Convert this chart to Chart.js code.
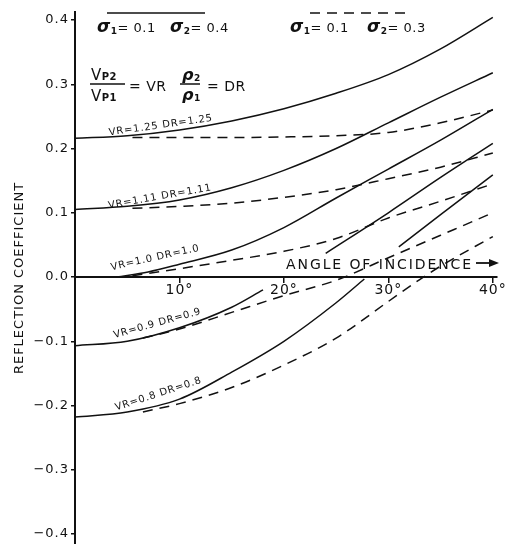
<!DOCTYPE html>
<html>
<head>
<meta charset="utf-8">
<script src="https://cdn.jsdelivr.net/npm/chart.js@4.4.1/dist/chart.umd.min.js"></script>
<style>
  html, body { margin:0; padding:0; background:#fff; }
  #wrap { width:505px; height:544px; }
</style>
</head>
<body>
<div id="wrap"><canvas id="grafico" width="505" height="544"></canvas></div>
<script>
// values: angle of incidence (deg) -> reflection coefficient
// solid = sigma1 0.1 / sigma2 0.4, dashed = sigma1 0.1 / sigma2 0.3
const solidAngles = [0, 5, 10, 15, 20, 25, 30, 35, 40];
const dashAngles = [5.5, 10, 15, 20, 25, 30, 35, 40];

const vr125Solid = [0.216, 0.220, 0.229, 0.243, 0.262, 0.286, 0.315, 0.355, 0.404];
const vr125Dash = [0.217, 0.217, 0.217, 0.218, 0.220, 0.225, 0.240, 0.260];

const vr111Solid = [0.105, 0.110, 0.120, 0.139, 0.166, 0.200, 0.240, 0.280, 0.318];
const vr111Dash = [0.107, 0.110, 0.115, 0.124, 0.136, 0.153, 0.171, 0.193];

const vr10SolidAngles = [4, 7, 10, 15, 20, 25, 30, 35, 40];
const vr10Solid = [0.000, 0.008, 0.020, 0.042, 0.077, 0.123, 0.168, 0.213, 0.261];
const vr10Dash = [0.002, 0.013, 0.026, 0.040, 0.060, 0.092, 0.118, 0.145];

// null = gap where the curve passes under the axis labels
const vr09SolidAngles = [0, 5, 10, 15, 18, 21, 24, 30, 35, 40];
const vr09Solid = [-0.107, -0.100, -0.079, -0.047, -0.020, null, 0.037, 0.100, 0.155, 0.208];
const vr09DashAngles = [6.5, 10, 15, 20, 25, 30, 35, 40];
const vr09Dash = [-0.095, -0.081, -0.055, -0.029, -0.005, 0.030, 0.065, 0.100];

const vr08SolidAngles = [0, 5, 10, 15, 20, 25, 27.7, 29.5, 31, 35, 40];
const vr08Solid = [-0.218, -0.210, -0.190, -0.148, -0.100, -0.040, -0.003, null, 0.047, 0.097, 0.159];
const vr08DashAngles = [6.5, 10, 15, 20, 25, 30, 33, 35, 40];
const vr08Dash = [-0.210, -0.197, -0.172, -0.137, -0.095, -0.038, -0.004, 0.017, 0.063];

const angleTicks = [0, 10, 20, 30, 40];
const coefTicks = [-0.4, -0.3, -0.2, -0.1, 0.0, 0.1, 0.2, 0.3, 0.4];

const INK = '#111';
const FONT = '"DejaVu Sans", sans-serif';

function serie(xs, ys, dashed) {
  return {
    data: xs.map((x, i) => ({ x, y: ys[i] })),
    borderColor: INK,
    borderWidth: 1.5,
    borderDash: dashed ? [10, 7] : [],
    pointRadius: 0,
    fill: false,
    spanGaps: false,
    cubicInterpolationMode: 'monotone'
  };
}

// draw a row of text pieces with different fonts (sigma + subscript etc)
function runs(ctx, x, y, parts) {
  parts.forEach(p => {
    ctx.font = p.f;
    ctx.fillText(p.t, x, y + (p.dy || 0));
    x += ctx.measureText(p.t).width + (p.gap || 0);
  });
}

const spacing = {
  id: 'spacing',
  beforeDraw(chart) { chart.ctx.letterSpacing = '1px'; },
  afterDraw(chart) { chart.ctx.letterSpacing = '0px'; }
};

const notes = {
  id: 'notes',
  afterDraw(chart) {
    const ctx = chart.ctx;
    const xs = chart.scales.x, ys = chart.scales.y;
    ctx.save();
    ctx.fillStyle = INK;
    ctx.strokeStyle = INK;
    ctx.textBaseline = 'alphabetic';
    ctx.textAlign = 'left';
    ctx.letterSpacing = '0.5px';

    // legend: line samples above the sigma text
    ctx.lineWidth = 1.5;
    ctx.beginPath(); ctx.moveTo(107, 13); ctx.lineTo(205, 13); ctx.stroke();
    ctx.setLineDash([10, 7]);
    ctx.beginPath(); ctx.moveTo(310, 13); ctx.lineTo(407, 13); ctx.stroke();
    ctx.setLineDash([]);

    const sig = 'italic bold 17px ' + FONT, sub = 'bold 9px ' + FONT, txt = '13px ' + FONT;
    runs(ctx, 97, 32, [{ t: 'σ', f: sig }, { t: '1', f: sub, dy: 2 }, { t: '= 0.1', f: txt }]);
    runs(ctx, 170, 32, [{ t: 'σ', f: sig }, { t: '2', f: sub, dy: 2 }, { t: '= 0.4', f: txt }]);
    runs(ctx, 290, 32, [{ t: 'σ', f: sig }, { t: '1', f: sub, dy: 2 }, { t: '= 0.1', f: txt }]);
    runs(ctx, 367, 32, [{ t: 'σ', f: sig }, { t: '2', f: sub, dy: 2 }, { t: '= 0.3', f: txt }]);

    // VR and DR definitions
    const big = '15px ' + FONT, small = 'bold 10px ' + FONT;
    runs(ctx, 91, 80, [{ t: 'V', f: big }, { t: 'P2', f: small }]);
    runs(ctx, 91, 101, [{ t: 'V', f: big }, { t: 'P1', f: small }]);
    ctx.beginPath(); ctx.moveTo(90, 84); ctx.lineTo(125, 84); ctx.stroke();
    runs(ctx, 129, 91, [{ t: '= VR', f: '14px ' + FONT }]);
    const rho = 'italic bold 16px ' + FONT;
    runs(ctx, 182, 80, [{ t: 'ρ', f: rho }, { t: '2', f: sub, dy: 1 }]);
    runs(ctx, 182, 100, [{ t: 'ρ', f: rho }, { t: '1', f: sub, dy: 1 }]);
    ctx.beginPath(); ctx.moveTo(180, 84); ctx.lineTo(200, 84); ctx.stroke();
    runs(ctx, 207, 91, [{ t: '= DR', f: '14px ' + FONT }]);

    // curve labels, placed on the data scales
    ctx.font = '10px ' + FONT;
    ctx.textAlign = 'center';
    ctx.letterSpacing = '0.8px';
    [['VR=1.25 DR=1.25', 8.2, 0.238, -8],
     ['VR=1.11 DR=1.11', 8.1, 0.127, -10],
     ['VR=1.0 DR=1.0', 7.65, 0.032, -12.5],
     ['VR=0.9 DR=0.9', 7.85, -0.070, -15.5],
     ['VR=0.8 DR=0.8', 7.95, -0.180, -18]].forEach(([t, a, c, r]) => {
      ctx.save();
      ctx.translate(xs.getPixelForValue(a), ys.getPixelForValue(c));
      ctx.rotate(r * Math.PI / 180);
      ctx.fillText(t, 0, 4);
      ctx.restore();
    });

    // axis caption with arrow
    ctx.font = '14px ' + FONT;
    ctx.letterSpacing = '1.9px';
    ctx.textAlign = 'right';
    ctx.fillText('ANGLE OF INCIDENCE', 473, 269);
    ctx.lineWidth = 1.8;
    ctx.beginPath(); ctx.moveTo(476, 263); ctx.lineTo(492, 263); ctx.stroke();
    ctx.beginPath(); ctx.moveTo(499, 263); ctx.lineTo(489, 259); ctx.lineTo(489, 267); ctx.closePath(); ctx.fill();

    ctx.restore();
  }
};

new Chart(document.getElementById('grafico'), {
  type: 'line',
  data: {
    datasets: [
      serie(solidAngles, vr125Solid, false),
      serie(dashAngles, vr125Dash, true),
      serie(solidAngles, vr111Solid, false),
      serie(dashAngles, vr111Dash, true),
      serie(vr10SolidAngles, vr10Solid, false),
      serie(dashAngles, vr10Dash, true),
      serie(vr09SolidAngles, vr09Solid, false),
      serie(vr09DashAngles, vr09Dash, true),
      serie(vr08SolidAngles, vr08Solid, false),
      serie(vr08DashAngles, vr08Dash, true)
    ]
  },
  options: {
    responsive: false,
    animation: false,
    events: [],
    layout: { padding: { top: 12, right: 8, bottom: 0, left: 0 } },
    plugins: { legend: { display: false }, tooltip: { enabled: false } },
    scales: {
      x: {
        type: 'linear',
        position: { y: 0 },
        min: 0, max: 40.4,
        afterBuildTicks: s => { s.ticks = angleTicks.map(v => ({ value: v })); },
        afterFit: s => { s.height = 0; s.paddingLeft = 0; s.paddingRight = 0; },
        ticks: {
          autoSkip: false, maxRotation: 0, padding: 0, color: INK,
          font: { family: FONT, size: 14 },
          callback: v => v === 0 ? '' : v + '°'
        },
        grid: { drawOnChartArea: false, tickLength: 5, color: INK, lineWidth: 1.5 },
        border: { color: INK, width: 2 }
      },
      y: {
        type: 'linear',
        min: -0.4155, max: 0.4125,
        afterBuildTicks: s => { s.ticks = coefTicks.map(v => ({ value: v })); },
        afterFit: s => { s.width = 75; s.paddingTop = 0; s.paddingBottom = 0; },
        ticks: {
          padding: 2, color: INK,
          font: { family: FONT, size: 13 },
          callback: v => (v < -0.001 ? '−' : '') + Math.abs(v).toFixed(1)
        },
        grid: { drawOnChartArea: false, tickLength: 4, color: INK, lineWidth: 1.5 },
        border: { color: INK, width: 2 },
        title: {
          display: true, text: 'REFLECTION COEFFICIENT', color: INK,
          font: { family: FONT, size: 13 },
          padding: { top: 12, bottom: 0 }
        }
      }
    }
  },
  plugins: [spacing, notes]
});
</script>
</body>
</html>
